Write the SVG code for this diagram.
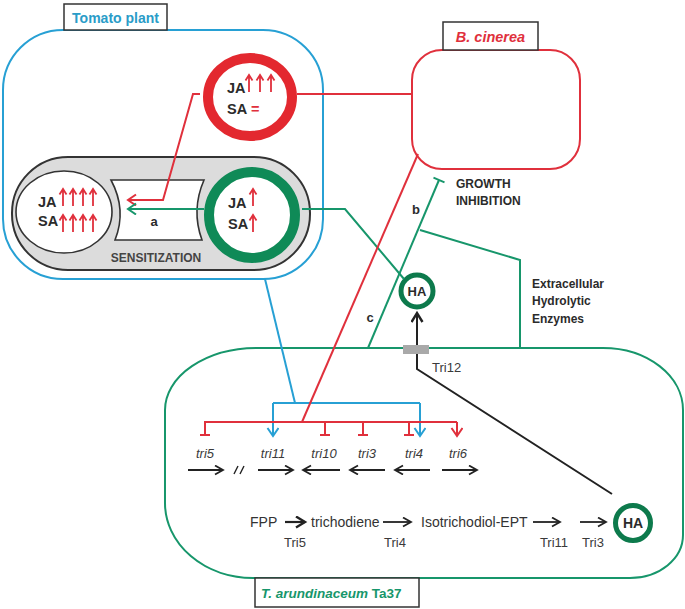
<svg xmlns="http://www.w3.org/2000/svg" width="685" height="609" viewBox="0 0 685 609">
<defs>
<style>
.lbl{font-family:"Liberation Sans",Arial,sans-serif;font-weight:bold;fill:#2b2b2b}
.jasa{font-family:"Liberation Sans",Arial,sans-serif;font-weight:bold;font-size:14.5px;fill:#2b2b2b}
.gene{font-family:"Liberation Sans",Arial,sans-serif;font-style:italic;font-size:13px;fill:#3a3a3a}
.path{font-family:"Liberation Sans",Arial,sans-serif;font-size:14px;fill:#333}
.enz{font-family:"Liberation Sans",Arial,sans-serif;font-size:13px;fill:#3a3a3a}
.blue{stroke:#27a0d4;stroke-width:2;fill:none}
.red{stroke:#e0303c;stroke-width:2;fill:none}
.green{stroke:#17966b;stroke-width:2;fill:none}
.blk{stroke:#222;stroke-width:1.8;fill:none}
.tag{fill:#fff;stroke:#333;stroke-width:1.5}
</style>
<path id="ua" d="M0,0 V-17 M-3.5,-11.5 L0,-17 L3.5,-11.5" stroke="#e0303c" stroke-width="1.8" fill="none"/>
<marker id="mk" markerUnits="userSpaceOnUse" markerWidth="12" markerHeight="12" refX="9" refY="5" orient="auto">
<path d="M1,0.5 L9,5 L1,9.5" fill="none" stroke="#222" stroke-width="1.8"/>
</marker>
<marker id="mkb" markerUnits="userSpaceOnUse" markerWidth="14" markerHeight="14" refX="10" refY="6" orient="auto">
<path d="M1,0.5 L10,6 L1,11.5" fill="none" stroke="#222" stroke-width="2.4"/>
</marker>
<marker id="mkBlue" markerUnits="userSpaceOnUse" markerWidth="14" markerHeight="14" refX="9" refY="6" orient="auto">
<path d="M1,0.5 L9,6 L1,11.5" fill="none" stroke="#27a0d4" stroke-width="2"/>
</marker>
<marker id="mkRed" markerUnits="userSpaceOnUse" markerWidth="14" markerHeight="14" refX="9" refY="6" orient="auto">
<path d="M1,0.5 L9,6 L1,11.5" fill="none" stroke="#e0303c" stroke-width="2"/>
</marker>
<marker id="mkGreen" markerUnits="userSpaceOnUse" markerWidth="14" markerHeight="14" refX="9" refY="6" orient="auto">
<path d="M1,0.5 L9,6 L1,11.5" fill="none" stroke="#17966b" stroke-width="2"/>
</marker>
</defs>

<!-- Tomato plant -->
<g id="tomato-plant">
<rect x="3" y="30" width="320" height="249" rx="60" ry="60" fill="none" stroke="#27a0d4" stroke-width="2"/>
<rect class="tag" x="64" y="4" width="103" height="26"/>
<text x="115.5" y="23" text-anchor="middle" class="lbl" style="font-size:14px;fill:#2a9cc8">Tomato plant</text>
</g>

<!-- B. cinerea -->
<g id="b-cinerea">
<rect x="412" y="50" width="168" height="119" rx="30" ry="30" fill="#fff" stroke="#e0303c" stroke-width="2"/>
<rect class="tag" x="443" y="22" width="95" height="28"/>
<text x="490.5" y="42" text-anchor="middle" class="lbl" style="font-size:14.5px;font-style:italic;fill:#e0303c">B. cinerea</text>
</g>

<!-- T. arundinaceum -->
<g id="t-arundinaceum">
<path d="M257,348 L603,348 A80,62 0 0 1 683,410 L683,535 A53,43 0 0 1 630,578 L253,578 A88,75 0 0 1 165,503 L165,410 A92,62 0 0 1 257,348 Z" fill="none" stroke="#17966b" stroke-width="2"/>
<rect class="tag" x="255" y="578" width="164" height="29"/>
<text x="261" y="598" class="lbl" style="font-size:13.5px;fill:#17966b"><tspan font-style="italic">T. arundinaceum</tspan> Ta37</text>
</g>

<!-- Sensitization capsule -->
<g id="sensitization">
<rect x="12" y="157" width="298" height="113" rx="56" ry="56" fill="#dcdcdc" stroke="#333" stroke-width="2"/>
<path d="M111,180 L204,180 Q191,210 202,240 L115,240 Q127,210 111,180 Z" fill="#fff" stroke="#333" stroke-width="1.6"/>
<text x="156" y="262" text-anchor="middle" class="lbl" style="font-size:12px;fill:#444">SENSITIZATION</text>
<text x="154" y="226" text-anchor="middle" class="lbl" style="font-size:13px">a</text>
</g>

<g id="primed-state">
<ellipse cx="64" cy="212" rx="48" ry="41" fill="#fff" stroke="#333" stroke-width="1.6"/>
<text x="38" y="207" class="jasa">JA</text>
<text x="38" y="226" class="jasa">SA</text>
<use href="#ua" x="63" y="206"/><use href="#ua" x="73" y="206"/><use href="#ua" x="83" y="206"/><use href="#ua" x="93" y="206"/>
<use href="#ua" x="63" y="232"/><use href="#ua" x="73" y="232"/><use href="#ua" x="83" y="232"/><use href="#ua" x="93" y="232"/>
</g>

<g id="green-state">
<circle cx="252" cy="215" r="43" fill="#fff" stroke="#0f8a57" stroke-width="10"/>
<text x="228" y="208" class="jasa">JA</text>
<text x="228" y="229" class="jasa">SA</text>
<use href="#ua" x="253" y="206"/>
<use href="#ua" x="253" y="232"/>
</g>

<g id="red-state">
<ellipse cx="250" cy="97" rx="42" ry="39" fill="#fff" stroke="#e3282f" stroke-width="10"/>
<text x="227" y="93" class="jasa">JA</text>
<text x="227" y="114" class="jasa">SA</text>
<use href="#ua" x="249" y="92"/><use href="#ua" x="260" y="92"/><use href="#ua" x="271" y="92"/>
<text x="251" y="114" class="lbl" style="font-size:14.5px;fill:#e0303c">=</text>
</g>

<!-- HA circles -->
<g id="ha-top">
<circle cx="417" cy="291" r="16" fill="#fff" stroke="#0d7a4c" stroke-width="5"/>
<text x="417" y="296" text-anchor="middle" class="lbl" style="font-size:13px">HA</text>
</g>
<g id="ha-bottom">
<circle cx="633" cy="523" r="17.5" fill="#fff" stroke="#0d7a4c" stroke-width="5"/>
<text x="633" y="528" text-anchor="middle" class="lbl" style="font-size:14px">HA</text>
</g>

<g id="tri12">
<rect x="403" y="345" width="26" height="9" fill="#a9a9a9"/>
<text x="432" y="372" class="enz">Tri12</text>
</g>

<!-- Labels -->
<g id="labels">
<text x="456" y="188" class="lbl" style="font-size:12px">GROWTH</text>
<text x="456" y="205" class="lbl" style="font-size:12px">INHIBITION</text>
<text x="532" y="288" class="lbl" style="font-size:12px">Extracellular</text>
<text x="532" y="305" class="lbl" style="font-size:12px">Hydrolytic</text>
<text x="532" y="323" class="lbl" style="font-size:12px">Enzymes</text>
<text x="416" y="214" text-anchor="middle" class="lbl" style="font-size:13px">b</text>
<text x="370" y="322" text-anchor="middle" class="lbl" style="font-size:13px">c</text>
</g>

<!-- Genes -->
<g id="genes">
<text x="205" y="458" text-anchor="middle" class="gene">tri5</text>
<text x="273" y="458" text-anchor="middle" class="gene">tri11</text>
<text x="324" y="458" text-anchor="middle" class="gene">tri10</text>
<text x="367" y="458" text-anchor="middle" class="gene">tri3</text>
<text x="414" y="458" text-anchor="middle" class="gene">tri4</text>
<text x="458" y="458" text-anchor="middle" class="gene">tri6</text>
<line class="blk" x1="188" y1="470" x2="223" y2="470" marker-end="url(#mk)"/>
<line class="blk" x1="258" y1="470" x2="293" y2="470" marker-end="url(#mk)"/>
<line class="blk" x1="340" y1="470" x2="303" y2="470" marker-end="url(#mk)"/>
<line class="blk" x1="385" y1="470" x2="350" y2="470" marker-end="url(#mk)"/>
<line class="blk" x1="430" y1="470" x2="395" y2="470" marker-end="url(#mk)"/>
<line class="blk" x1="442" y1="470" x2="477" y2="470" marker-end="url(#mk)"/>
<path d="M234,474 L238,466 M240,474 L244,466" stroke="#222" stroke-width="1.4" fill="none"/>
</g>

<!-- Pathway -->
<g id="pathway">
<text x="250" y="527" class="path">FPP</text>
<line x1="285" y1="522" x2="305" y2="522" stroke="#222" stroke-width="2.2" marker-end="url(#mkb)"/>
<text x="311" y="527" class="path">trichodiene</text>
<line class="blk" x1="383" y1="522" x2="411" y2="522" marker-end="url(#mk)"/>
<text x="421" y="527" class="path">Isotrichodiol-EPT</text>
<line class="blk" x1="533" y1="522" x2="560" y2="522" marker-end="url(#mk)"/>
<line class="blk" x1="580" y1="522" x2="606" y2="522" marker-end="url(#mk)"/>
<text x="295" y="547" text-anchor="middle" class="enz">Tri5</text>
<text x="395" y="547" text-anchor="middle" class="enz">Tri4</text>
<text x="554" y="547" text-anchor="middle" class="enz">Tri11</text>
<text x="593" y="547" text-anchor="middle" class="enz">Tri3</text>
</g>

<!-- Connectors -->
<g id="connectors">
<polyline class="red" points="200,94 193,94 163,200 128,200" marker-end="url(#mkRed)"/>
<line class="green" x1="204" y1="209" x2="128" y2="209" marker-end="url(#mkGreen)"/>
<line class="red" x1="297" y1="94" x2="412" y2="94"/>
<polyline class="green" points="302,209 345,209 404,279"/>
<line class="blue" x1="265" y1="279" x2="295" y2="403"/>
<line class="blue" x1="273" y1="403" x2="420" y2="403"/>
<line class="blue" x1="273" y1="403" x2="273" y2="436" marker-end="url(#mkBlue)"/>
<line class="blue" x1="420" y1="403" x2="420" y2="436" marker-end="url(#mkBlue)"/>
<line class="red" x1="418" y1="154" x2="302" y2="422"/>
<line class="red" x1="204" y1="422" x2="457" y2="422"/>
<path class="red" d="M205,422 V435 M200,435 H210 M325,422 V435 M320,435 H330 M363,422 V435 M358,435 H368 M409,422 V435 M404,435 H414"/>
<line class="red" x1="457" y1="422" x2="457" y2="436" marker-end="url(#mkRed)"/>
<line class="green" x1="368" y1="348" x2="439" y2="180"/>
<line class="green" x1="433.5" y1="177.7" x2="444.5" y2="182.3"/>
<polyline class="green" points="420,230 520,260 520,348"/>
<line x1="417" y1="345" x2="417" y2="313" stroke="#222" stroke-width="2" marker-end="url(#mkb)"/>
<polyline points="417,354 417,369 612,494" fill="none" stroke="#222" stroke-width="2"/>
</g>
</svg>
